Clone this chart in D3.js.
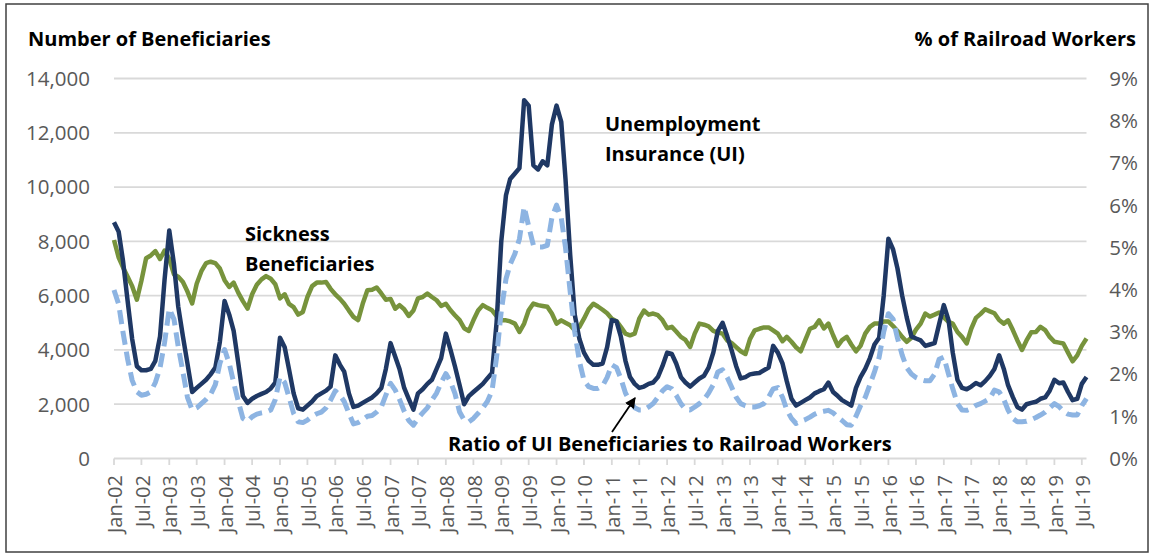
<!DOCTYPE html>
<html>
<head>
<meta charset="utf-8">
<script src="https://cdn.jsdelivr.net/npm/d3@7"></script>
<style>
  body { margin: 0; background: #fff; }
  svg { display: block; font-family: "Open Sans", Lato, sans-serif; }
</style>
</head>
<body>
<svg id="chart" width="1151" height="554"></svg>
<script>
// monthly series, Jan-02 .. Aug-19
const firstMonth = "Jan-02";

const uiBeneficiaries = [
  8700, 8350, 7300, 5800, 4400, 3400, 3250, 3250, 3300, 3600, 4500, 6600,
  8400, 7150, 5600, 4500, 3500, 2450, 2600, 2750, 2900, 3100, 3350, 4300,
  5800, 5300, 4700, 3500, 2300, 2050, 2200, 2300, 2380, 2450, 2580, 2800,
  4450, 4100, 3300, 2400, 1850, 1800, 1950, 2100, 2300, 2400, 2500, 2650,
  3800, 3450, 3200, 2400, 1900, 1950, 2050, 2150, 2250, 2400, 2600, 3300,
  4250, 3750, 3300, 2600, 2200, 1800, 2400, 2550, 2750, 2900, 3300, 3700,
  4600, 4000, 3400, 2700, 2000, 2300, 2450, 2600, 2750, 2950, 3150, 5000,
  8000, 9700, 10300, 10500, 10700, 13200, 13000, 10800, 10650, 10950, 10800, 12300,
  13000, 12400, 10300, 7500, 5300, 4400, 3900, 3600, 3450, 3450, 3500, 4100,
  5100, 5050, 4500, 3600, 3000, 2750, 2600, 2650, 2750, 2800, 3000, 3400,
  3900, 3850, 3500, 3000, 2800, 2650, 2800, 2950, 3050, 3350, 3900, 4700,
  5000, 4500, 4000, 3400, 2950, 3000, 3100, 3130, 3150, 3250, 3350, 4150,
  3900, 3500, 2850, 2200, 1950, 2050, 2150, 2250, 2400, 2480, 2550, 2800,
  2450, 2300, 2150, 2050, 1950, 2600, 3000, 3300, 3700, 4200, 4450, 6000,
  8100, 7700, 7000, 6000, 5200, 4500, 4420, 4350, 4150, 4200, 4250, 4950,
  5650, 5100, 3900, 2900, 2600, 2550, 2650, 2780, 2700, 2850, 3050, 3300,
  3800, 3300, 2700, 2270, 1900, 1800, 2000, 2050, 2090, 2200, 2250, 2500,
  2900, 2770, 2800, 2450, 2150, 2200, 2750, 3000
];

const sicknessBeneficiaries = [
  8050, 7400, 7050, 6700, 6350, 5850, 6550, 7380, 7480, 7640, 7350, 7660,
  7350, 6780, 6700, 6500, 6150, 5710, 6440, 6900, 7200, 7250, 7200, 7000,
  6570, 6320, 6480, 6100, 5800, 5520, 6050, 6400, 6600, 6720, 6620, 6420,
  5900, 6050, 5700, 5580, 5300, 5400, 5950, 6350, 6480, 6480, 6500, 6250,
  6050, 5880, 5700, 5450, 5220, 5100, 5700, 6200, 6220, 6300, 6080, 5850,
  5880, 5520, 5650, 5500, 5250, 5450, 5900, 5950, 6080, 5950, 5830, 5620,
  5700, 5460, 5280, 5100, 4800, 4700, 5090, 5450, 5650, 5550, 5460, 5250,
  5090, 5090, 5050, 4970, 4660, 4970, 5460, 5710, 5650, 5620, 5590, 5340,
  4970, 5090, 5000, 4910, 4730, 4850, 5150, 5500, 5700, 5600, 5480, 5350,
  5150, 5060, 4850, 4600, 4540, 4600, 5150, 5450, 5300, 5340, 5280, 5100,
  4800, 4850, 4680, 4480, 4370, 4110, 4600, 4970, 4930, 4870, 4700, 4640,
  4600, 4350, 4260, 4100, 3950, 3850, 4400, 4720, 4780, 4830, 4830, 4720,
  4600, 4320, 4480, 4300, 4100, 3950, 4360, 4780, 4850, 5090, 4790, 4970,
  4540, 4150, 4360, 4480, 4200, 3950, 4150, 4600, 4850, 4970, 4970, 5050,
  5050, 4880, 4700, 4480, 4300, 4450, 4750, 4970, 5340, 5230, 5300, 5380,
  5200, 5030, 4970, 4660, 4480, 4240, 4780, 5180, 5330, 5500, 5420, 5350,
  5100, 4970, 5090, 4740, 4360, 4000, 4350, 4650, 4660, 4850, 4730, 4480,
  4300, 4270, 4235, 3900, 3580, 3800, 4150, 4420
];

// % of railroad workers (right axis)
const uiRatio = [
  3.99, 3.65, 3.00, 2.35, 1.85, 1.58, 1.50, 1.52, 1.58, 1.80, 2.15, 2.75,
  3.55, 3.30, 2.65, 2.05, 1.45, 1.15, 1.20, 1.30, 1.40, 1.52, 1.75, 2.25,
  2.58, 2.25, 1.80, 1.35, 0.95, 0.88, 0.99, 1.05, 1.08, 1.10, 1.15, 1.40,
  1.93, 1.80, 1.46, 1.07, 0.87, 0.85, 0.91, 1.00, 1.06, 1.10, 1.20, 1.38,
  1.60, 1.50, 1.35, 1.07, 0.82, 0.85, 0.92, 1.00, 1.02, 1.10, 1.22, 1.50,
  1.78, 1.62, 1.40, 1.12, 0.90, 0.79, 0.95, 1.08, 1.20, 1.38, 1.55, 1.80,
  2.01, 1.82, 1.54, 1.10, 0.91, 0.87, 0.95, 1.07, 1.20, 1.35, 1.60, 2.40,
  3.50, 4.25, 4.60, 4.85, 5.20, 5.96, 5.50, 5.05, 5.01, 5.01, 5.05, 5.70,
  6.00, 5.70, 5.00, 3.95, 3.00, 2.30, 1.85, 1.70, 1.66, 1.66, 1.72, 1.92,
  2.22, 2.15, 1.90, 1.55, 1.35, 1.20, 1.15, 1.15, 1.22, 1.30, 1.45, 1.60,
  1.70, 1.65, 1.50, 1.30, 1.17, 1.15, 1.22, 1.30, 1.40, 1.55, 1.75, 2.05,
  2.10, 1.92, 1.70, 1.45, 1.30, 1.25, 1.22, 1.22, 1.25, 1.30, 1.45, 1.65,
  1.68, 1.45, 1.15, 0.95, 0.83, 0.88, 0.92, 0.98, 1.05, 1.10, 1.12, 1.14,
  1.08, 0.98, 0.90, 0.80, 0.79, 1.00, 1.25, 1.45, 1.75, 2.05, 2.40, 3.00,
  3.43, 3.30, 2.85, 2.45, 2.15, 2.00, 1.92, 1.87, 1.84, 1.84, 2.00, 2.35,
  2.40, 2.00, 1.65, 1.30, 1.15, 1.14, 1.18, 1.26, 1.30, 1.36, 1.42, 1.62,
  1.58, 1.40, 1.15, 0.95, 0.87, 0.87, 0.88, 0.92, 0.97, 1.03, 1.10, 1.20,
  1.30, 1.23, 1.12, 1.05, 1.03, 1.03, 1.25, 1.42
];

const xTickLabels = [
  "Jan-02", "Jul-02", "Jan-03", "Jul-03", "Jan-04", "Jul-04", "Jan-05", "Jul-05",
  "Jan-06", "Jul-06", "Jan-07", "Jul-07", "Jan-08", "Jul-08", "Jan-09", "Jul-09",
  "Jan-10", "Jul-10", "Jan-11", "Jul-11", "Jan-12", "Jul-12", "Jan-13", "Jul-13",
  "Jan-14", "Jul-14", "Jan-15", "Jul-15", "Jan-16", "Jul-16", "Jan-17", "Jul-17",
  "Jan-18", "Jul-18", "Jan-19", "Jul-19"
];
const leftTicks = [0, 2000, 4000, 6000, 8000, 10000, 12000, 14000];
const rightTicks = [0, 1, 2, 3, 4, 5, 6, 7, 8, 9];

const parseMonth = d3.timeParse("%b-%y");
const start = parseMonth(firstMonth);
const dates = uiBeneficiaries.map((d, i) => d3.timeMonth.offset(start, i));

const svg = d3.select("#chart");

// outer frame
svg.append("rect")
  .attr("x", 6).attr("y", 4)
  .attr("width", 1142).attr("height", 548)
  .attr("fill", "none")
  .attr("stroke", "#404040")
  .attr("stroke-width", 1.5);

const x = d3.scaleTime()
  .domain([start, dates[dates.length - 1]])
  .range([114, 1086.5]);
const yLeft = d3.scaleLinear().domain([0, 14000]).range([458.5, 78.5]);
const yRight = d3.scaleLinear().domain([0, 9]).range([458.5, 78.5]);

// grid lines
svg.append("g")
  .selectAll("line")
  .data(leftTicks)
  .join("line")
  .attr("x1", x.range()[0])
  .attr("x2", x.range()[1])
  .attr("y1", d => yLeft(d))
  .attr("y2", d => yLeft(d))
  .attr("stroke", "#d9d9d9")
  .attr("stroke-width", 1.8);

// left axis labels
svg.append("g")
  .selectAll("text")
  .data(leftTicks)
  .join("text")
  .attr("x", 90)
  .attr("y", d => yLeft(d))
  .attr("dy", "0.36em")
  .attr("text-anchor", "end")
  .attr("fill", "#595959")
  .style("font-size", "20.5px")
  .text(d => d3.format(",")(d));

// right axis labels
svg.append("g")
  .selectAll("text")
  .data(rightTicks)
  .join("text")
  .attr("x", 1138)
  .attr("y", d => yRight(d))
  .attr("dy", "0.36em")
  .attr("text-anchor", "end")
  .attr("fill", "#595959")
  .style("font-size", "20.5px")
  .text(d => d + "%");

// x ticks + rotated labels
const xTicks = svg.append("g")
  .selectAll("g")
  .data(xTickLabels)
  .join("g")
  .attr("transform", d => `translate(${x(parseMonth(d))},0)`);

xTicks.append("line")
  .attr("y1", 458.5).attr("y2", 465)
  .attr("stroke", "#d9d9d9")
  .attr("stroke-width", 1.8);

xTicks.append("text")
  .attr("transform", "translate(1,475) rotate(-90)")
  .attr("dy", "0.36em")
  .attr("text-anchor", "end")
  .attr("fill", "#595959")
  .style("font-size", "20px")
  .text(d => d);

// series
const lineLeft = d3.line()
  .x((d, i) => x(dates[i]))
  .y(d => yLeft(d));
const lineRight = d3.line()
  .x((d, i) => x(dates[i]))
  .y(d => yRight(d));

svg.append("path")
  .datum(sicknessBeneficiaries)
  .attr("d", lineLeft)
  .attr("fill", "none")
  .attr("stroke", "#77933c")
  .attr("stroke-width", 4.5)
  .attr("stroke-linejoin", "round");

svg.append("path")
  .datum(uiBeneficiaries)
  .attr("d", lineLeft)
  .attr("fill", "none")
  .attr("stroke", "#1f3864")
  .attr("stroke-width", 4.5)
  .attr("stroke-linejoin", "round");

svg.append("path")
  .datum(uiRatio)
  .attr("d", lineRight)
  .attr("fill", "none")
  .attr("stroke", "#8db4e2")
  .attr("stroke-width", 5)
  .attr("stroke-dasharray", "14,7")
  .attr("stroke-linejoin", "round");

// axis titles
svg.append("text")
  .attr("x", 28).attr("y", 46)
  .attr("fill", "#000")
  .style("font-size", "20px")
  .style("font-weight", "bold")
  .text("Number of Beneficiaries");

svg.append("text")
  .attr("x", 1136).attr("y", 46)
  .attr("text-anchor", "end")
  .attr("fill", "#000")
  .style("font-size", "20px")
  .style("font-weight", "bold")
  .text("% of Railroad Workers");

// series annotations
const notes = [
  { lines: ["Sickness", "Beneficiaries"], x: 245, y: 241 },
  { lines: ["Unemployment", "Insurance (UI)"], x: 605, y: 131 },
  { lines: ["Ratio of UI Beneficiaries to Railroad Workers"], x: 448, y: 451 }
];
notes.forEach(n => {
  const t = svg.append("text")
    .attr("x", n.x).attr("y", n.y)
    .attr("fill", "#000")
    .style("font-size", "20px")
    .style("font-weight", "bold");
  n.lines.forEach((l, i) => {
    t.append("tspan").attr("x", n.x).attr("dy", i === 0 ? 0 : 30).text(l);
  });
});

// arrow pointing at the ratio line
svg.append("defs").append("marker")
  .attr("id", "arrowhead")
  .attr("viewBox", "0 0 10 10")
  .attr("refX", 9).attr("refY", 5)
  .attr("markerWidth", 6).attr("markerHeight", 6)
  .attr("orient", "auto")
  .append("path")
  .attr("d", "M0,0 L10,5 L0,10 z")
  .attr("fill", "#000");

svg.append("line")
  .attr("x1", 612).attr("y1", 432)
  .attr("x2", 635).attr("y2", 398)
  .attr("stroke", "#000")
  .attr("stroke-width", 1.8)
  .attr("marker-end", "url(#arrowhead)");
</script>
</body>
</html>
